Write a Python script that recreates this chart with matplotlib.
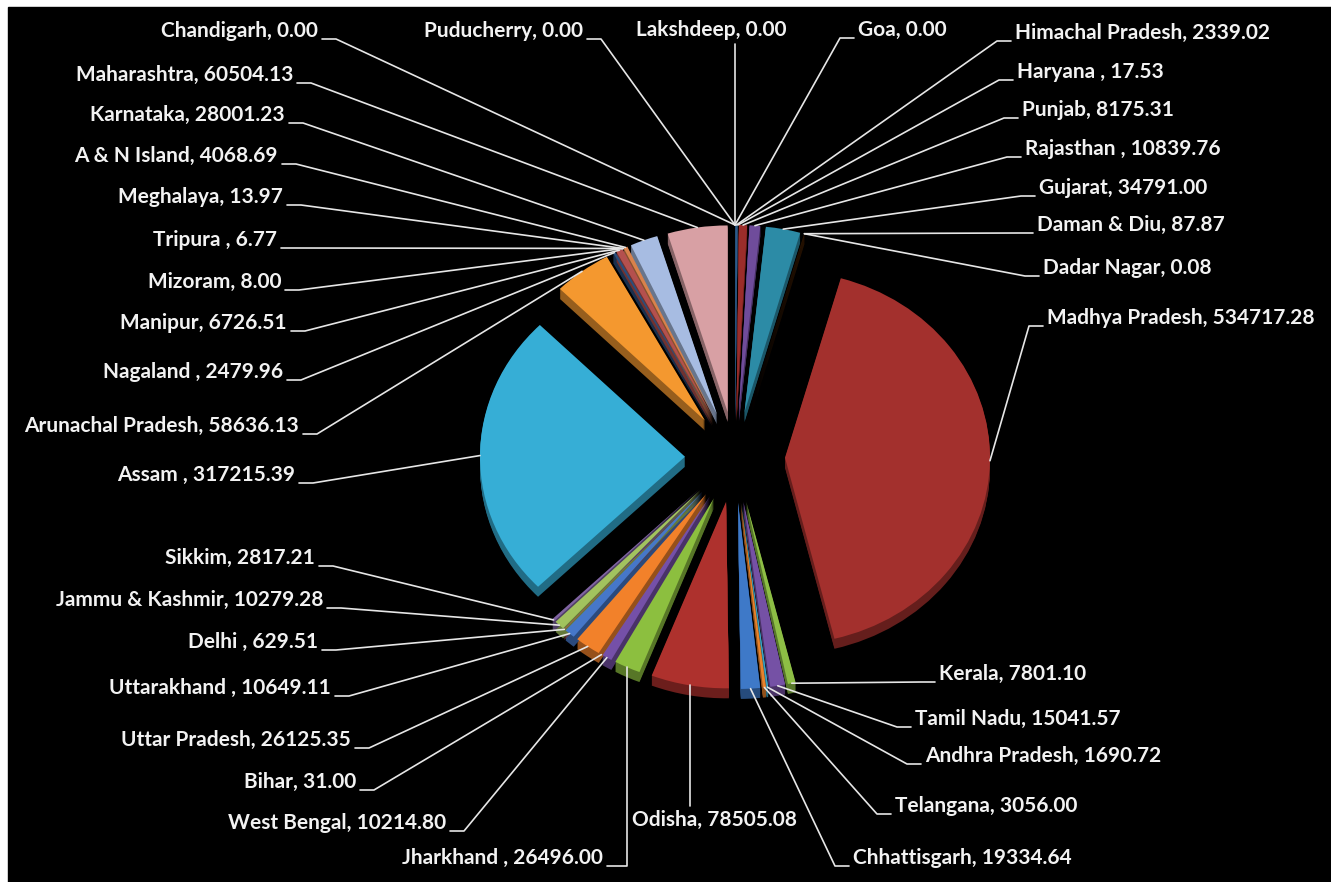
import matplotlib
matplotlib.use("Agg")
import numpy as np
import matplotlib.pyplot as plt
import matplotlib.patches as mpatches
import matplotlib.transforms as mtransforms
from matplotlib.colors import to_rgb

# states listed clockwise from 12 o'clock
states = ["Lakshdeep", "Goa", "Himachal Pradesh", "Haryana ", "Punjab", "Rajasthan ",
          "Gujarat", "Daman & Diu", "Dadar Nagar", "Madhya Pradesh", "Kerala", "Tamil Nadu",
          "Andhra Pradesh", "Telangana", "Chhattisgarh", "Odisha", "Jharkhand ", "West Bengal",
          "Bihar", "Uttar Pradesh", "Uttarakhand ", "Delhi ", "Jammu & Kashmir", "Sikkim",
          "Assam ", "Arunachal Pradesh", "Nagaland ", "Manipur", "Mizoram", "Tripura ",
          "Meghalaya", "A & N Island", "Karnataka", "Maharashtra", "Chandigarh", "Puducherry"]
values = [0.00, 0.00, 2339.02, 17.53, 8175.31, 10839.76,
          34791.00, 87.87, 0.08, 534717.28, 7801.10, 15041.57,
          1690.72, 3056.00, 19334.64, 78505.08, 26496.00, 10214.80,
          31.00, 26125.35, 10649.11, 629.51, 10279.28, 2817.21,
          317215.39, 58636.13, 2479.96, 6726.51, 8.00, 6.77,
          13.97, 4068.69, 28001.23, 60504.13, 0.00, 0.00]
colors = ["#4BACC6", "#F79646", "#2C5C8A", "#943634", "#9B2D2A", "#6F4C9B",
          "#2C8BA6", "#E36C09", "#4F81BD", "#A3302D", "#8DBE45", "#7551A5",
          "#3BA3C4", "#E8822C", "#3E79C8", "#AE312D", "#8CBF3F", "#7550A8",
          "#4BACC6", "#F2812A", "#4677C9", "#C0504D", "#A2C35E", "#8064A2",
          "#36AED6", "#F4982F", "#2A4E7C", "#B4504E", "#9BBB59", "#8064A2",
          "#4BACC6", "#D9824B", "#A7BCE2", "#D8A0A4", "#9BBB59", "#8064A2"]

# label placement in pixels from the top-left corner: x, y, alignment, leader style
label_layout = [(711, 30, "center", "up"), (858, 30, "left", "side"), (1015, 33, "left", "side"),
                (1017, 72, "left", "side"), (1022, 110, "left", "side"), (1025, 149, "left", "side"),
                (1039, 188, "left", "side"), (1037, 225, "left", "side"), (1043, 268, "left", "side"),
                (1047, 318, "left", "side"), (939, 674, "left", "side"), (915, 719, "left", "side"),
                (925, 756, "left", "side"), (895, 806, "left", "side"), (853, 858, "left", "side"),
                (632, 820, "left", "down"), (603, 858, "right", "hook"), (446, 823, "right", "side"),
                (356, 782, "right", "side"), (351, 740, "right", "side"), (331, 688, "right", "side"),
                (318, 642, "right", "side"), (323, 600, "right", "side"), (315, 558, "right", "side"),
                (295, 475, "right", "side"), (299, 426, "right", "side"), (283, 372, "right", "side"),
                (287, 323, "right", "side"), (281, 282, "right", "side"), (277, 240, "right", "side"),
                (283, 197, "right", "side"), (278, 156, "right", "side"), (285, 115, "right", "side"),
                (293, 75, "right", "side"), (318, 31, "right", "side"), (583, 31, "right", "side")]

W, H = 1331, 882
cx, cy = 735, H - 457
radius = 205
offset = 50
squash = 0.91
depth = 10

fig = plt.figure(figsize=(W / 100, H / 100), dpi=100, facecolor="white")
ax = fig.add_axes([0, 0, 1, 1])
ax.add_patch(mpatches.Rectangle((8, 0), W - 8, H - 7, color="black", zorder=0))

# pie explode is an absolute shift, in the same units as the radius
wedges, _ = ax.pie(values, colors=colors, startangle=90, counterclock=False,
                   explode=[offset] * len(values), radius=radius, center=(cx, cy),
                   wedgeprops=dict(linewidth=0))

flat = mtransforms.Affine2D().translate(-cx, -cy).scale(1, squash).translate(cx, cy)

# extruded sides first, then the top faces
for w, c in zip(wedges, colors):
    dark = tuple(v * 0.62 for v in to_rgb(c))
    for d in range(depth, 0, -1):
        side = mpatches.Wedge(w.center, w.r, w.theta1, w.theta2, color=dark, lw=0, zorder=2)
        side.set_transform(flat + mtransforms.Affine2D().translate(0, -d) + ax.transData)
        ax.add_patch(side)
    w.set_transform(flat + ax.transData)
    w.set_zorder(3)

line_kw = dict(color="#E6E6E6", lw=1.2, zorder=4, solid_capstyle="round")
for w, name, v, (x, y, ha, style) in zip(wedges, states, values, label_layout):
    mid = np.radians((w.theta1 + w.theta2) / 2)
    ax_pt = flat.transform((w.center[0] + w.r * np.cos(mid), w.center[1] + w.r * np.sin(mid)))
    ty = H - y
    ax.text(x, ty, f"{name}, {v:.2f}", ha=ha, va="center", color="#F2F2F2",
            fontsize=15, fontweight="bold", family=["Lato", "DejaVu Sans"], zorder=5)
    yb = ty - 8
    if style == "side":
        sgn = -1 if ha == "left" else 1
        xs = [x + sgn * 4, x + sgn * 18, ax_pt[0]]
        ys = [yb, yb, ax_pt[1]]
    elif style == "up":
        xs = [ax_pt[0], ax_pt[0]]
        ys = [ty - 14, ax_pt[1]]
    elif style == "down":
        xs = [ax_pt[0], ax_pt[0]]
        ys = [ax_pt[1], ty + 14]
    else:
        xs = [x + 4, ax_pt[0], ax_pt[0]]
        ys = [yb, yb, ax_pt[1]]
    ax.plot(xs, ys, **line_kw)

ax.set_xlim(0, W)
ax.set_ylim(0, H)
ax.set_aspect("auto")
ax.axis("off")
fig.savefig("out.png", dpi=100, facecolor=fig.get_facecolor())
